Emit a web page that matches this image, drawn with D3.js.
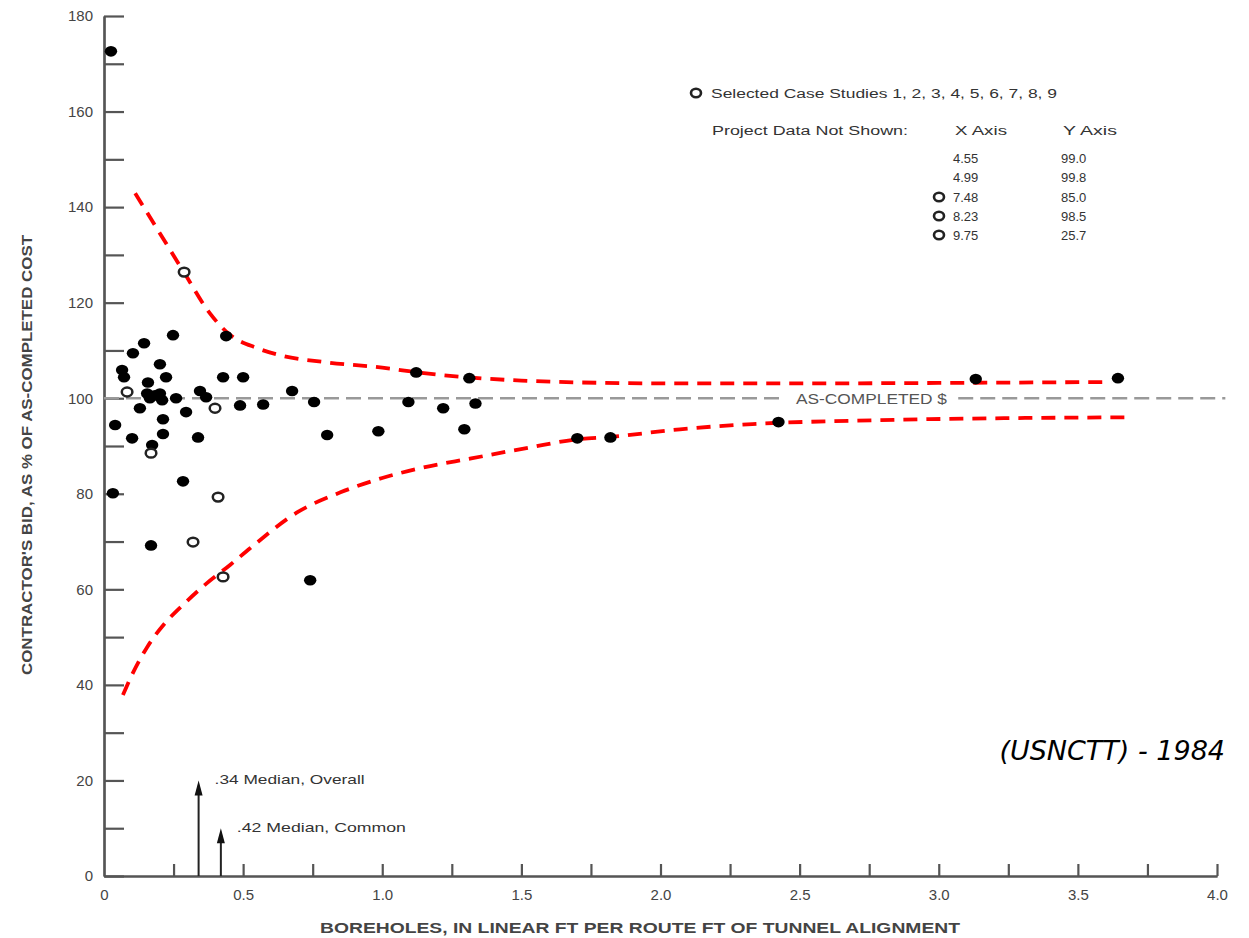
<!DOCTYPE html>
<html>
<head>
<meta charset="utf-8">
<script src="https://cdn.jsdelivr.net/npm/d3@7"></script>
<style>
  html, body { margin: 0; padding: 0; background: #fff; }
  svg { display: block; }
  text { font-family: "Liberation Sans", Arial, sans-serif; }
</style>
</head>
<body>
<svg id="chart" width="1249" height="938"></svg>
<script>
// ---------------- DATA ----------------
const xTickValues = [0, 0.5, 1.0, 1.5, 2.0, 2.5, 3.0, 3.5, 4.0];
const xTickLabels = ["0", "0.5", "1.0", "1.5", "2.0", "2.5", "3.0", "3.5", "4.0"];
const yTickValues = [0, 20, 40, 60, 80, 100, 120, 140, 160, 180];

// Filled points: all projects [boreholes ft/ft, bid % of as-completed]
const solidPoints = [
  [0.025, 172.6], [0.248, 113.2], [0.439, 113.0], [0.144, 111.5], [0.104, 109.4],
  [0.201, 107.1], [0.065, 105.9], [0.072, 104.4], [0.223, 104.4], [0.428, 104.4],
  [0.500, 104.4], [0.158, 103.3], [0.345, 101.5], [0.676, 101.5], [0.155, 101.0],
  [0.201, 101.0], [0.165, 100.0], [0.183, 100.6], [0.209, 99.6], [0.259, 100.0],
  [0.367, 100.2], [0.129, 97.9], [0.489, 98.5], [0.572, 98.7], [0.755, 99.2],
  [0.295, 97.1], [0.212, 95.6], [0.040, 94.4], [0.101, 91.6], [0.212, 92.5],
  [0.338, 91.8], [0.802, 92.3], [0.173, 90.2], [0.284, 82.6], [0.032, 80.1],
  [0.169, 69.2], [0.741, 61.9], [0.986, 93.1], [1.094, 99.2], [1.122, 105.4],
  [1.219, 97.9], [1.295, 93.5], [1.313, 104.2], [1.335, 98.9], [1.701, 91.6],
  [1.820, 91.8], [2.424, 95.0], [3.133, 104.0], [3.644, 104.2]
];
// Open points: selected case studies
const openPoints = [
  [0.083, 101.3], [0.288, 126.4], [0.399, 97.9], [0.169, 88.5],
  [0.410, 79.3], [0.320, 69.9], [0.428, 62.6]
];
// Red dashed envelope curves
const upperBound = [
  [0.112, 142.9], [0.20, 134.6], [0.29, 126.1], [0.38, 117.8], [0.446, 113.6],
  [0.55, 110.5], [0.633, 109.0], [0.80, 107.5], [1.0, 106.4], [1.13, 105.4],
  [1.32, 104.3], [1.5, 103.7], [1.71, 103.3], [2.07, 103.1], [2.5, 103.1],
  [3.0, 103.2], [3.62, 103.4]
];
const lowerBound = [
  [0.068, 37.9], [0.104, 42.5], [0.155, 47.9], [0.219, 52.9], [0.29, 57.1],
  [0.37, 61.3], [0.453, 65.1], [0.525, 68.6], [0.70, 76.3], [0.85, 80.3],
  [1.0, 83.3], [1.14, 85.4], [1.32, 87.4], [1.53, 89.7], [1.70, 91.4],
  [1.82, 91.9], [2.07, 93.5], [2.33, 94.6], [2.7, 95.3], [3.2, 95.8], [3.69, 96.0]
];
const asCompleted = 100;
// Median arrows
const medianX = [0.34, 0.42];
const medianTip = [20, 10];
const medianLabels = [".34 Median, Overall", ".42 Median, Common"];
// Project data not shown
const notShownX = ["4.55", "4.99", "7.48", "8.23", "9.75"];
const notShownY = ["99.0", "99.8", "85.0", "98.5", "25.7"];
const notShownSelected = [false, false, true, true, true];

// ---------------- CHART ----------------
const svg = d3.select("#chart");
const x = d3.scaleLinear().domain([0, 4]).range([104, 1217]);
const y = d3.scaleLinear().domain([0, 180]).range([876, 16]);
const axisColor = "#555";
const textColor = "#444";

// Y axis (minor + major ticks pointing inward, labels outside)
const gyMinor = svg.append("g").attr("transform", `translate(${x(0)},0)`)
  .call(d3.axisLeft(y).tickValues(d3.range(10, 180, 20)).tickSizeInner(-20).tickSizeOuter(0).tickFormat(""));
const gy = svg.append("g").attr("transform", `translate(${x(0)},0)`)
  .call(d3.axisLeft(y).tickValues(yTickValues).tickSizeInner(-20).tickSizeOuter(0).tickPadding(11));
[gyMinor, gy].forEach(g => {
  g.select(".domain").attr("stroke", axisColor).attr("stroke-width", 2.2);
  g.selectAll(".tick line").attr("stroke", axisColor).attr("stroke-width", 2.2);
});
gy.selectAll(".tick text").attr("fill", textColor).style("font-size", "15px");

// X axis
const gxMinor = svg.append("g").attr("transform", `translate(0,${y(0)})`)
  .call(d3.axisBottom(x).tickValues(d3.range(0.25, 4, 0.5)).tickSizeInner(-12).tickSizeOuter(0).tickFormat(""));
const gx = svg.append("g").attr("transform", `translate(0,${y(0)})`)
  .call(d3.axisBottom(x).tickValues(xTickValues).tickSizeInner(-12).tickSizeOuter(0).tickPadding(13)
    .tickFormat((d, i) => xTickLabels[i]));
[gxMinor, gx].forEach(g => {
  g.select(".domain").attr("stroke", axisColor).attr("stroke-width", 2.2);
  g.selectAll(".tick line").attr("stroke", axisColor).attr("stroke-width", 2.2);
});
gx.selectAll(".tick").filter(d => d === 0).select("line").remove();
gx.selectAll(".tick text").attr("fill", textColor).style("font-size", "15px");

// Axis titles
svg.append("text")
  .attr("transform", `translate(32,455) rotate(-90)`)
  .attr("text-anchor", "middle")
  .attr("textLength", 440).attr("lengthAdjust", "spacingAndGlyphs")
  .attr("fill", textColor).style("font-size", "14px").style("font-weight", "bold")
  .text("CONTRACTOR'S BID, AS % OF AS-COMPLETED COST");
svg.append("text")
  .attr("x", 640).attr("y", 933)
  .attr("text-anchor", "middle")
  .attr("textLength", 640).attr("lengthAdjust", "spacingAndGlyphs")
  .attr("fill", textColor).style("font-size", "14px").style("font-weight", "bold")
  .text("BOREHOLES, IN LINEAR FT PER ROUTE FT OF TUNNEL ALIGNMENT");

// As-completed reference line
const refSegs = [[0, 2.44], [3.07, 4.03]];
svg.append("g").selectAll("line").data(refSegs).join("line")
  .attr("x1", d => x(d[0])).attr("x2", d => x(d[1]))
  .attr("y1", y(asCompleted)).attr("y2", y(asCompleted))
  .attr("stroke", "#999").attr("stroke-width", 2.6)
  .attr("stroke-dasharray", "15,7");
svg.append("text")
  .attr("x", 796).attr("y", y(asCompleted) + 6)
  .attr("textLength", 151).attr("lengthAdjust", "spacingAndGlyphs")
  .attr("fill", "#555").style("font-size", "14px")
  .text("AS-COMPLETED $");

// Envelope curves
const lineGen = d3.line().x(d => x(d[0])).y(d => y(d[1])).curve(d3.curveMonotoneX);
[upperBound, lowerBound].forEach(arr => {
  svg.append("path").datum(arr)
    .attr("d", lineGen)
    .attr("fill", "none")
    .attr("stroke", "#ff0000").attr("stroke-width", 3.8)
    .attr("stroke-dasharray", "14,9");
});

// Points
svg.append("g").selectAll("ellipse").data(solidPoints).join("ellipse")
  .attr("cx", d => x(d[0])).attr("cy", d => y(d[1]))
  .attr("rx", 6.2).attr("ry", 5.3)
  .attr("fill", "#000");
svg.append("g").selectAll("ellipse").data(openPoints).join("ellipse")
  .attr("cx", d => x(d[0])).attr("cy", d => y(d[1]))
  .attr("rx", 5.3).attr("ry", 4.4)
  .attr("fill", "#fff").attr("stroke", "#222").attr("stroke-width", 2.5);

// Median arrows
const medianLen = [150, 169];
medianX.forEach((m, i) => {
  const g = svg.append("g");
  const xt = x(m), yt = y(medianTip[i]);
  g.append("line").attr("x1", xt).attr("x2", xt).attr("y1", y(0)).attr("y2", yt + 8)
    .attr("stroke", "#222").attr("stroke-width", 2);
  g.append("path").attr("d", `M${xt},${yt} L${xt - 4},${yt + 15} L${xt + 4},${yt + 15} Z`)
    .attr("fill", "#111");
  g.append("text").attr("x", xt + 16).attr("y", yt + 4)
    .attr("textLength", medianLen[i]).attr("lengthAdjust", "spacingAndGlyphs")
    .attr("fill", "#333").style("font-size", "13px")
    .text(medianLabels[i]);
});

// Legend
const leg = svg.append("g");
leg.append("ellipse").attr("cx", 696).attr("cy", 93).attr("rx", 5).attr("ry", 4.2)
  .attr("fill", "#fff").attr("stroke", "#222").attr("stroke-width", 2.6);
leg.append("text").attr("x", 711).attr("y", 97.5)
  .attr("textLength", 346).attr("lengthAdjust", "spacingAndGlyphs")
  .attr("fill", "#333").style("font-size", "12.5px")
  .text("Selected Case Studies 1, 2, 3, 4, 5, 6, 7, 8, 9");
leg.append("text").attr("x", 712).attr("y", 135)
  .attr("textLength", 196).attr("lengthAdjust", "spacingAndGlyphs")
  .attr("fill", "#333").style("font-size", "12.5px")
  .text("Project Data Not Shown:");
leg.append("text").attr("x", 955).attr("y", 135).attr("fill", "#333").style("font-size", "12.5px")
  .attr("textLength", 52).attr("lengthAdjust", "spacingAndGlyphs").text("X Axis");
leg.append("text").attr("x", 1063).attr("y", 135).attr("fill", "#333").style("font-size", "12.5px")
  .attr("textLength", 54).attr("lengthAdjust", "spacingAndGlyphs").text("Y Axis");
const rowY = [158, 177, 197, 216, 235];
notShownX.forEach((v, i) => {
  leg.append("text").attr("x", 953).attr("y", rowY[i] + 5).attr("fill", "#333")
    .style("font-size", "13px").text(v);
  leg.append("text").attr("x", 1061).attr("y", rowY[i] + 5).attr("fill", "#333")
    .style("font-size", "13px").text(notShownY[i]);
  if (notShownSelected[i]) {
    leg.append("ellipse").attr("cx", 939).attr("cy", rowY[i]).attr("rx", 5).attr("ry", 4.2)
      .attr("fill", "#fff").attr("stroke", "#222").attr("stroke-width", 2.6);
  }
});

// Source note
svg.append("text")
  .attr("x", 1225).attr("y", 760)
  .attr("text-anchor", "end")
  .style("font-family", "'DejaVu Sans', sans-serif")
  .style("font-style", "italic").style("font-size", "27px")
  .attr("fill", "#000")
  .text("(USNCTT) - 1984");
</script>
</body>
</html>
